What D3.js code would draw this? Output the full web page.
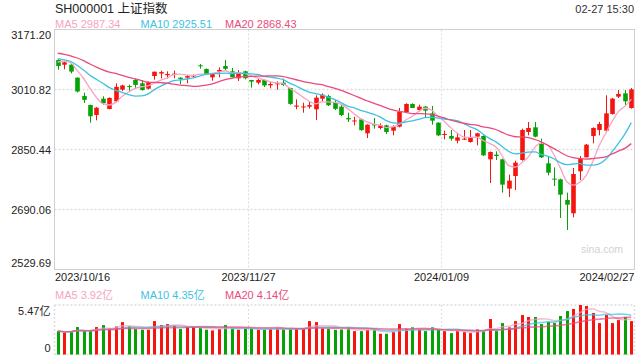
<!DOCTYPE html>
<html>
<head>
<meta charset="utf-8">
<script src="https://cdn.jsdelivr.net/npm/d3@7"></script>
<style>
  html, body { margin: 0; padding: 0; background: #fff; }
  svg { display: block; font-family: "Liberation Sans", Arial, "Noto Sans CJK SC", sans-serif; }
</style>
</head>
<body>
<div id="chart"></div>
<script>
// daily bars, 2023/10/16 .. 2024/02/27
const dates = [
  '2023/10/16', '2023/10/17', '2023/10/18', '2023/10/19', '2023/10/20', '2023/10/23', '2023/10/24', '2023/10/25', '2023/10/26', '2023/10/27', '2023/10/30', '2023/10/31',
  '2023/11/01', '2023/11/02', '2023/11/03', '2023/11/06', '2023/11/07', '2023/11/08', '2023/11/09', '2023/11/10', '2023/11/13', '2023/11/14', '2023/11/15', '2023/11/16',
  '2023/11/17', '2023/11/20', '2023/11/21', '2023/11/22', '2023/11/23', '2023/11/24', '2023/11/27', '2023/11/28', '2023/11/29', '2023/11/30',
  '2023/12/01', '2023/12/04', '2023/12/05', '2023/12/06', '2023/12/07', '2023/12/08', '2023/12/11', '2023/12/12', '2023/12/13', '2023/12/14', '2023/12/15',
  '2023/12/18', '2023/12/19', '2023/12/20', '2023/12/21', '2023/12/22', '2023/12/25', '2023/12/26', '2023/12/27', '2023/12/28', '2023/12/29',
  '2024/01/02', '2024/01/03', '2024/01/04', '2024/01/05', '2024/01/08', '2024/01/09', '2024/01/10', '2024/01/11', '2024/01/12', '2024/01/15', '2024/01/16',
  '2024/01/17', '2024/01/18', '2024/01/19', '2024/01/22', '2024/01/23', '2024/01/24', '2024/01/25', '2024/01/26', '2024/01/29', '2024/01/30', '2024/01/31',
  '2024/02/01', '2024/02/02', '2024/02/05', '2024/02/06', '2024/02/07', '2024/02/08', '2024/02/19', '2024/02/20', '2024/02/21', '2024/02/22', '2024/02/23',
  '2024/02/26', '2024/02/27'
]

const open = [
  3089.7, 3077.0, 3077.2, 3042.4, 2993.4, 2969.4, 2942.7, 2986.3, 2958.7, 2979.2, 3010.4, 3020.0,
  3036.2, 3027.3, 3013.0, 3046.9, 3053.5, 3049.0, 3049.5, 3042.4, 3042.4, 3045.5, 3075.4, 3065.6,
  3043.3, 3058.5, 3073.6, 3059.4, 3040.7, 3059.4, 3036.2, 3029.1, 3036.2, 3022.0,
  3025.5, 3029.1, 3014.8, 2965.0, 2963.1, 2965.0, 2957.8, 2986.3, 2993.4, 2975.6, 2964.9,
  2934.7, 2925.7, 2931.1, 2893.7, 2918.6, 2907.9, 2915.0, 2900.8, 2911.5, 2950.7,
  2972.1, 2956.0, 2965.0, 2947.1, 2922.2, 2890.1, 2886.5, 2874.0, 2877.6, 2870.5, 2884.8,
  2886.5, 2824.2, 2836.7, 2824.2, 2745.8, 2779.6, 2822.4, 2897.2, 2909.7, 2865.2, 2813.5,
  2772.5, 2770.7, 2715.5, 2679.9, 2792.1, 2829.5, 2886.6, 2902.6, 2900.8, 2945.4, 2991.7,
  3000.6, 2961.4
]
const high = [
  3092.0, 3085.0, 3078.5, 3043.5, 3002.4, 2970.5, 2964.0, 2992.6, 2990.0, 3027.3, 3023.7, 3024.0,
  3039.8, 3036.2, 3032.0, 3058.8, 3061.2, 3059.4, 3061.2, 3043.5, 3049.6, 3051.0, 3079.0, 3067.4,
  3053.0, 3070.0, 3089.7, 3068.3, 3062.9, 3061.2, 3036.8, 3039.8, 3038.0, 3031.0,
  3032.6, 3039.8, 3015.5, 2984.5, 2975.6, 2979.2, 2995.2, 3000.6, 2997.0, 2982.7, 2972.1,
  2948.9, 2938.0, 2932.9, 2917.5, 2934.7, 2920.4, 2916.8, 2915.0, 2961.4, 2973.9,
  2973.9, 2970.3, 2966.7, 2966.7, 2922.8, 2900.8, 2902.6, 2895.5, 2902.6, 2902.6, 2895.5,
  2888.3, 2845.0, 2845.6, 2826.0, 2783.2, 2820.6, 2906.1, 2924.0, 2924.0, 2879.4, 2833.1,
  2802.8, 2772.5, 2735.1, 2801.0, 2833.1, 2865.2, 2909.7, 2924.0, 2995.3, 2988.1, 3009.5,
  3009.5, 3014.9
]
const low = [
  3063.8, 3064.7, 3054.0, 3003.0, 2974.7, 2922.2, 2928.4, 2970.3, 2957.8, 2976.5, 3006.8, 3007.0,
  3013.1, 3007.7, 3011.0, 3037.1, 3040.7, 3040.7, 3040.7, 3025.5, 3027.3, 3044.0, 3066.5, 3050.0,
  3034.4, 3043.3, 3062.9, 3043.3, 3033.5, 3038.0, 3015.7, 3024.6, 3017.5, 3013.9,
  3010.4, 3020.2, 2970.0, 2957.8, 2948.9, 2959.6, 2929.3, 2979.2, 2966.7, 2956.0, 2940.0,
  2924.0, 2915.0, 2900.8, 2881.0, 2906.1, 2904.4, 2891.9, 2888.3, 2909.7, 2948.9,
  2961.0, 2952.5, 2936.4, 2916.8, 2886.5, 2877.6, 2874.0, 2867.0, 2875.8, 2868.7, 2861.6,
  2833.1, 2760.9, 2822.4, 2735.1, 2723.5, 2742.2, 2820.6, 2888.3, 2883.0, 2827.8, 2781.4,
  2752.9, 2667.4, 2635.3, 2669.2, 2769.0, 2829.5, 2867.0, 2888.3, 2897.2, 2943.6, 2988.1,
  2968.5, 2959.6
]
const close = [
  3073.8, 3083.5, 3058.7, 3005.4, 2983.1, 2939.3, 2962.2, 2974.1, 2988.3, 3017.8, 3021.6, 3018.8,
  3023.1, 3009.4, 3030.8, 3058.4, 3057.3, 3052.4, 3053.3, 3039.0, 3046.5, 3048.5, 3072.8, 3050.9,
  3052.0, 3063.0, 3066.0, 3043.6, 3055.8, 3041.0, 3031.7, 3036.2, 3021.7, 3025.5,
  3027.3, 3022.9, 2972.3, 2968.0, 2965.5, 2969.0, 2989.0, 2997.0, 2968.8, 2959.0, 2942.6,
  2931.0, 2928.0, 2902.1, 2916.8, 2914.8, 2915.0, 2897.2, 2911.5, 2950.7, 2972.1,
  2961.4, 2964.9, 2954.3, 2927.5, 2888.3, 2891.9, 2879.4, 2883.0, 2879.4, 2881.2, 2893.7,
  2834.9, 2843.8, 2833.1, 2756.5, 2767.2, 2815.3, 2902.6, 2907.9, 2884.8, 2829.5, 2788.5,
  2770.7, 2729.7, 2703.0, 2785.0, 2826.0, 2863.4, 2907.9, 2918.6, 2947.1, 2986.4, 2998.8,
  2979.2, 3011.3
]
// closes of the 19 sessions before 2023/10/16, needed for the moving averages
const priorCloses = [
  3142.78, 3137.06, 3122.35, 3126.55, 3117.74, 3125.93, 3124.66, 3108.57, 3084.70, 3132.43,
  3115.61, 3102.27, 3107.32, 3110.48, 3075.24, 3072.72, 3078.96, 3107.90, 3088.10
]
// volume, 亿
const volume = [
  2.59, 2.44, 2.52, 3.03, 2.59, 2.59, 3.03, 3.25, 2.88, 3.10, 3.58, 3.10,
  2.81, 2.74, 2.74, 3.69, 3.25, 3.36, 3.18, 2.81, 3.03, 3.03, 2.96, 2.74,
  2.66, 2.81, 3.25, 2.88, 2.74, 2.88, 2.88, 2.74, 2.74, 2.81,
  2.88, 2.81, 2.81, 2.88, 2.88, 3.69, 3.58, 2.88, 2.81, 2.73, 2.77,
  2.95, 2.58, 2.58, 2.73, 2.73, 2.29, 2.29, 2.51, 3.36, 2.84,
  3.00, 2.77, 2.58, 3.00, 2.73, 2.58, 2.36, 2.58, 2.51, 2.36, 2.77,
  2.58, 3.92, 2.58, 3.47, 3.00, 3.69, 4.36, 4.14, 4.14, 3.36, 3.60,
  3.47, 4.25, 4.80, 5.03, 5.47, 5.36, 4.58, 3.47, 4.36, 3.47, 3.80,
  4.14, 3.69
]

const yTicks = ['3171.20', '3010.82', '2850.44', '2690.06', '2529.69']
const dateTicks = ['2023/10/16', '2023/11/27', '2024/01/09', '2024/02/27']
const volTicks = ['5.47亿', '0']
const maNames = ['MA5', 'MA10', 'MA20']
const maPeriods = [5, 10, 20]
const maPriceText = ['2987.34', '2925.51', '2868.43']
const maVolText = ['3.92亿', '4.35亿', '4.14亿']

const W = 640, H = 360
const plotL = 54.5, plotR = 634.5
const priceTop = 29.5, priceBottom = 269.5
const volTop = 305, volBottom = 354.5
const upColor = '#f5150f', downColor = '#05a205'
const maColors = ['#f7a3c3', '#3cc3e3', '#eb4a7c']
const gridColor = '#dcdcdc'

const svg = d3.select('#chart').append('svg')
  .attr('width', W).attr('height', H)

const n = dates.length
const x = d3.scaleBand().domain(d3.range(n)).range([plotL, plotR])
const cx = i => x(i) + x.bandwidth() / 2

const yMin = +yTicks[yTicks.length - 1], yMax = +yTicks[0]
const y = d3.scaleLinear().domain([yMin, yMax]).range([priceBottom, priceTop])
const yv = d3.scaleLinear().domain([0, parseFloat(volTicks[0])]).range([volBottom, volTop])

// moving averages
const allCloses = priorCloses.concat(close)
const off = priorCloses.length
function priceMA(p) {
  return close.map((_, i) => d3.mean(allCloses.slice(i + off - p + 1, i + off + 1)))
}
function volMA(p) {
  return volume.map((_, i) => d3.mean(volume.slice(Math.max(0, i - p + 1), i + 1)))
}

// header
svg.append('text').attr('x', 55).attr('y', 13)
  .attr('font-size', 12.5).attr('fill', '#222').text('SH000001 上证指数')
svg.append('text').attr('x', 634).attr('y', 13).attr('text-anchor', 'end')
  .attr('font-size', 11).attr('fill', '#333').text('02-27 15:30')

const labelX = [55, 140.5, 225]
maNames.forEach((m, k) => {
  svg.append('text').attr('x', labelX[k]).attr('y', 27.5)
    .attr('font-size', 11).attr('fill', maColors[k]).text(m + ' ' + maPriceText[k])
  svg.append('text').attr('x', labelX[k]).attr('y', 299)
    .attr('font-size', 11).attr('fill', maColors[k]).text(m + ' ' + maVolText[k])
})

// price grid
const g = svg.append('g')
yTicks.forEach((t, k) => {
  const yy = y(+t)
  if (k > 0 && k < yTicks.length - 1) {
    g.append('line').attr('x1', plotL).attr('x2', plotR).attr('y1', yy).attr('y2', yy)
      .attr('stroke', gridColor).attr('stroke-width', 1.4).attr('stroke-dasharray', '2,2')
  }
  const dy = k === 0 ? 9 : k === yTicks.length - 1 ? -3 : 4
  g.append('text').attr('x', 51).attr('y', yy + dy).attr('text-anchor', 'end')
    .attr('font-size', 11).attr('fill', '#222').text(t)
})

dateTicks.forEach((d, k) => {
  const i = dates.indexOf(d)
  const xx = Math.round(x(i)) + 0.5
  const last = k === dateTicks.length - 1
  if (k > 0 && !last) {
    g.append('line').attr('x1', xx).attr('x2', xx).attr('y1', priceTop).attr('y2', priceBottom)
      .attr('stroke', gridColor).attr('stroke-dasharray', '2,2')
    g.append('line').attr('x1', xx).attr('x2', xx).attr('y1', volTop).attr('y2', volBottom)
      .attr('stroke', gridColor).attr('stroke-dasharray', '2,2')
  }
  g.append('text')
    .attr('x', k === 0 ? plotL + 0.5 : last ? plotR : xx)
    .attr('y', 281)
    .attr('text-anchor', k === 0 ? 'start' : last ? 'end' : 'middle')
    .attr('font-size', 11).attr('fill', '#222').text(d)
})

g.append('rect').attr('x', plotL).attr('y', priceTop)
  .attr('width', plotR - plotL).attr('height', priceBottom - priceTop)
  .attr('fill', 'none').attr('stroke', '#d0d0d0')

svg.append('text').attr('x', 602).attr('y', 253).attr('text-anchor', 'middle')
  .attr('font-size', 10.5).attr('fill', '#d2d2d2').text('sina.com')

// candles
const bodyW = 4.6
const candles = svg.append('g')
d3.range(n).forEach(i => {
  const up = close[i] >= open[i]
  const col = up ? upColor : downColor
  const xc = Math.round(cx(i)) + 0.5
  candles.append('line').attr('x1', xc).attr('x2', xc)
    .attr('y1', y(high[i])).attr('y2', y(low[i]))
    .attr('stroke', col).attr('stroke-width', 1)
  const top = y(Math.max(open[i], close[i]))
  const bh = Math.max(1, y(Math.min(open[i], close[i])) - top)
  candles.append('rect').attr('x', xc - bodyW / 2).attr('y', top)
    .attr('width', bodyW).attr('height', bh).attr('fill', col)
})

// price MA lines
const priceLine = d3.line().x((_, i) => cx(i)).y(d => y(d)).curve(d3.curveMonotoneX)
maPeriods.forEach((p, k) => {
  svg.append('path').datum(priceMA(p)).attr('d', priceLine)
    .attr('fill', 'none').attr('stroke', maColors[k]).attr('stroke-width', 1.3)
})

// volume panel
const vg = svg.append('g')
;[volTop, volBottom].forEach(yy => {
  vg.append('line').attr('x1', plotL).attr('x2', plotR).attr('y1', yy).attr('y2', yy)
    .attr('stroke', gridColor).attr('stroke-width', 1.4).attr('stroke-dasharray', '2,2')
})
;[plotL, plotR].forEach(xx => {
  vg.append('line').attr('x1', xx).attr('x2', xx).attr('y1', volTop).attr('y2', volBottom)
    .attr('stroke', gridColor).attr('stroke-width', 1.4).attr('stroke-dasharray', '2,2')
})
vg.append('text').attr('x', 50.5).attr('y', 315).attr('text-anchor', 'end')
  .attr('font-size', 11).attr('fill', '#222').text(volTicks[0])
vg.append('text').attr('x', 50.5).attr('y', 351.5).attr('text-anchor', 'end')
  .attr('font-size', 11).attr('fill', '#222').text(volTicks[1])

const barW = 3
vg.selectAll('rect.vol').data(volume).join('rect').attr('class', 'vol')
  .attr('x', (_, i) => Math.round(cx(i)) + 0.5 - barW / 2)
  .attr('y', d => yv(d))
  .attr('width', barW)
  .attr('height', d => volBottom - yv(d))
  .attr('fill', (_, i) => close[i] >= open[i] ? upColor : downColor)

const volLine = d3.line().x((_, i) => cx(i)).y(d => yv(d)).curve(d3.curveMonotoneX)
maPeriods.forEach((p, k) => {
  vg.append('path').datum(volMA(p)).attr('d', volLine)
    .attr('fill', 'none').attr('stroke', maColors[k]).attr('stroke-width', 1.6)
    .attr('stroke-opacity', 0.7)
})
</script>
</body>
</html>
